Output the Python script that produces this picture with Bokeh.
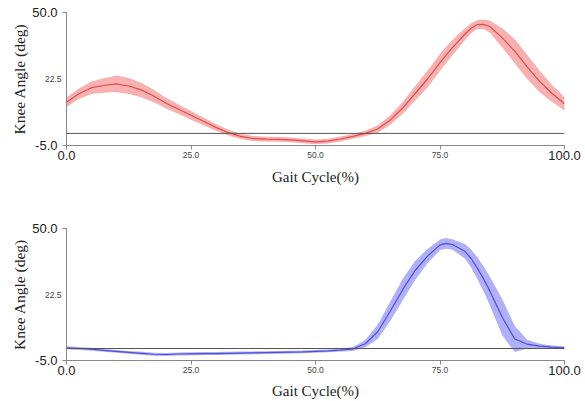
import numpy as np
from bokeh.plotting import figure
from bokeh.models import Range1d, FixedTicker, Span, LinearAxis
from bokeh.layouts import column
from bokeh.embed import file_html
from bokeh.resources import INLINE

# ---------------- data ----------------
gait_pct = [0, 2.5, 5, 7.5, 10, 12.5, 15, 17.5, 20, 22.5, 25, 27.5, 30, 32.5, 35, 37.5,
            40, 42.5, 45, 47.5, 50, 52.5, 55, 57.5, 60, 62.5, 65, 67.5, 70, 72.5, 75,
            76.25, 77.5, 80, 81.25, 82.5, 83.75, 85, 87.5, 90, 92.5, 95, 97.5, 100]

red_mean = [12.9, 16.4, 18.9, 19.8, 20.5, 19.6, 18.0, 15.5, 12.5, 10.0, 7.5, 5.0, 2.5, 0.3,
            -1.2, -2.1, -2.4, -2.5, -2.7, -3.1, -3.5, -3.2, -2.3, -1.2, 0.0, 1.8, 5.5, 10.5,
            16.5, 22.5, 29.3, 32.5, 35.5, 41.0, 43.5, 45.0, 45.1, 44.2, 39.5, 34.0, 27.5,
            21.5, 16.5, 12.3]
red_sd = [2.0, 2.2, 2.6, 3.0, 3.4, 3.3, 3.0, 2.6, 2.2, 2.0, 1.8, 1.6, 1.4, 1.2, 1.1, 1.0,
          1.0, 1.0, 1.0, 1.0, 1.0, 1.0, 1.0, 1.0, 1.2, 1.5, 2.0, 2.5, 3.0, 3.5, 3.5,
          3.4, 3.2, 2.5, 2.1, 1.8, 2.0, 2.5, 4.0, 5.0, 5.0, 4.5, 3.5, 2.8]

blue_mean = [0.3, 0.0, -0.3, -0.8, -1.2, -1.6, -2.0, -2.4, -2.5, -2.3, -2.2, -2.1, -2.1, -2.0,
             -1.9, -1.8, -1.7, -1.6, -1.5, -1.4, -1.2, -1.0, -0.7, -0.2, 2.0, 7.0, 15.5, 24.5,
             32.5, 38.5, 43.2, 43.8, 43.3, 40.5, 37.5, 33.5, 29.0, 24.0, 13.0, 4.0, 1.8, 1.0,
             0.6, 0.3]
blue_sd = [0.6, 0.6, 0.6, 0.6, 0.6, 0.6, 0.6, 0.6, 0.6, 0.6, 0.6, 0.6, 0.6, 0.6, 0.6, 0.6,
           0.6, 0.6, 0.6, 0.6, 0.6, 0.6, 0.6, 0.8, 1.5, 3.0, 4.0, 4.5, 4.0, 3.0, 2.2,
           2.2, 2.2, 3.0, 3.7, 4.5, 5.2, 6.0, 7.5, 5.5, 1.8, 1.0, 0.7, 0.6]

x_big_ticks = [0, 100]
x_big_labels = ["0.0", "100.0"]
x_small_ticks = [25, 50, 75]
x_small_labels = ["25.0", "50.0", "75.0"]
y_big_ticks = [-5, 50]
y_big_labels = ["-5.0", "50.0"]
y_small_ticks = [22.5]
y_small_labels = ["22.5"]

SANS = "Liberation Sans"
SERIF = "Liberation Serif"
AX_COL = "#888888"


def make_panel(mean, sd, line_col, band_col, height, top, bottom, xl_standoff):
    p = figure(width=585, height=height, output_backend="svg", toolbar_location=None,
               x_range=Range1d(0, 100), y_range=Range1d(-5, 50),
               x_axis_location=None, y_axis_location=None,
               min_border_left=66, min_border_right=21,
               min_border_top=top, min_border_bottom=bottom)
    p.outline_line_color = None
    p.grid.visible = False

    m = np.array(mean)
    s = np.array(sd)
    p.varea(x=gait_pct, y1=m - s, y2=m + s, fill_color=band_col, fill_alpha=1.0)
    p.line(x=gait_pct, y=mean, line_color=line_col, line_width=1.2)
    p.add_layout(Span(location=0, dimension="width", line_color="#555555", line_width=1))

    # ---- x axis: inner axis with line, ticks and the small labels ----
    xa1 = LinearAxis(ticker=FixedTicker(ticks=x_small_ticks, minor_ticks=x_big_ticks),
                     major_label_overrides={t: l for t, l in zip(x_small_ticks, x_small_labels)},
                     major_label_text_font=SANS, major_label_text_font_size="8.5px",
                     major_label_text_color="#444444", major_label_standoff=2,
                     major_tick_out=4, major_tick_in=0, minor_tick_out=4, minor_tick_in=0,
                     axis_line_color=AX_COL, major_tick_line_color=AX_COL,
                     minor_tick_line_color=AX_COL)
    p.add_layout(xa1, "below")
    # outer axis: big end labels pulled up to the same line, plus the title
    xa2 = LinearAxis(ticker=FixedTicker(ticks=x_big_ticks, minor_ticks=[]),
                     major_label_overrides={t: l for t, l in zip(x_big_ticks, x_big_labels)},
                     major_label_text_font=SANS, major_label_text_font_size="13px",
                     major_label_text_color="#222222", major_label_standoff=-10,
                     major_tick_out=0, major_tick_in=0, axis_line_color=None,
                     major_tick_line_color=None, minor_tick_line_color=None,
                     axis_label="Gait Cycle(%)", axis_label_text_font=SERIF,
                     axis_label_text_font_style="normal", axis_label_text_font_size="15px",
                     axis_label_text_color="#222222", axis_label_standoff=xl_standoff)
    p.add_layout(xa2, "below")

    # ---- y axis: inner axis with line, end ticks and the small label ----
    ya1 = LinearAxis(ticker=FixedTicker(ticks=y_small_ticks, minor_ticks=y_big_ticks),
                     major_label_overrides={t: l for t, l in zip(y_small_ticks, y_small_labels)},
                     major_label_text_font=SANS, major_label_text_font_size="8.5px",
                     major_label_text_color="#444444", major_label_standoff=1,
                     major_tick_out=0, major_tick_in=0, minor_tick_out=4, minor_tick_in=0,
                     axis_line_color=AX_COL, major_tick_line_color=None,
                     minor_tick_line_color=AX_COL)
    p.add_layout(ya1, "left")
    ya2 = LinearAxis(ticker=FixedTicker(ticks=y_big_ticks, minor_ticks=[]),
                     major_label_overrides={t: l for t, l in zip(y_big_ticks, y_big_labels)},
                     major_label_text_font=SANS, major_label_text_font_size="13px",
                     major_label_text_color="#222222", major_label_standoff=-16,
                     major_tick_out=0, major_tick_in=0, axis_line_color=None,
                     major_tick_line_color=None, minor_tick_line_color=None,
                     axis_label="Knee Angle (deg)", axis_label_text_font=SERIF,
                     axis_label_text_font_style="normal", axis_label_text_font_size="15.5px",
                     axis_label_text_color="#222222", axis_label_standoff=1)
    p.add_layout(ya2, "left")
    return p


p1 = make_panel(red_mean, red_sd, "#dd4f4f", "#f8b0b0", 208, 12, 63, 6)
p2 = make_panel(blue_mean, blue_sd, "#4f4fd8", "#b0b0f8", 193, 20, 39, 5)

layout = column(p1, p2, spacing=0)
open("out.html", "w").write(file_html(layout, INLINE))
